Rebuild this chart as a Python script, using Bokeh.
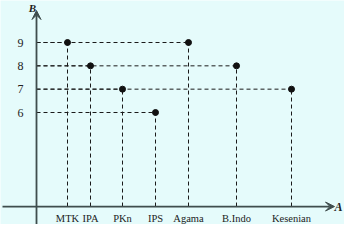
from bokeh.plotting import figure
from bokeh.models import Range1d, Arrow, VeeHead
from bokeh.embed import file_html
from bokeh.resources import INLINE
from bokeh.core.properties import value

# ---- data ----
categories = ["MTK", "IPA", "PKn", "IPS", "Agama", "B.Indo", "Kesenian"]
scores = [9, 8, 7, 6, 9, 8, 7]
y_ticks = [6, 7, 8, 9]
y_tick_labels = ["6", "7", "8", "9"]
x_axis_label = "A"
y_axis_label = "B"

# ---- layout (positions of the category slots along the horizontal axis) ----
cat_x = [31, 54, 86, 119, 152, 200, 255]
base = 1.97          # level at which the horizontal axis is drawn
bg = "#e5fbfb"
axis_col = "#3f4d4d"
serif = value("Liberation Serif")

p = figure(width=344, height=224, x_range=Range1d(-36, 308), y_range=Range1d(1.2, 10.8),
           x_axis_type=None, y_axis_type=None, toolbar_location=None,
           output_backend="svg", min_border=0)
p.background_fill_color = bg
p.border_fill_color = bg
p.outline_line_color = None
p.grid.visible = False

# dashed guides
p.segment(x0=[0] * len(scores), y0=scores, x1=cat_x, y1=scores,
          line_color="#1a1a1a", line_width=1, line_dash="4 3")
p.segment(x0=cat_x, y0=[base] * len(scores), x1=cat_x, y1=scores,
          line_color="#1a1a1a", line_width=1, line_dash="4 3")

# axes with arrows
p.add_layout(Arrow(x_start=-34, y_start=base, x_end=298, y_end=base,
                   line_color=axis_col, line_width=1.8,
                   end=VeeHead(size=9, fill_color=axis_col, line_color=axis_col)))
p.add_layout(Arrow(x_start=0, y_start=0.8, x_end=0, y_end=10.37,
                   line_color=axis_col, line_width=1.8,
                   end=VeeHead(size=9, fill_color=axis_col, line_color=axis_col)))

# points
p.scatter(cat_x, scores, size=6, color="#111111")

# tick labels
p.text(x=[-16] * len(y_ticks), y=y_ticks, text=y_tick_labels, text_font=serif,
       text_font_size="12px", text_align="center", text_baseline="middle",
       text_color="#222222")
p.text(x=cat_x, y=[base - 0.5] * len(categories), text=categories, text_font=serif,
       text_font_size="10.5px", text_align="center", text_baseline="middle",
       text_color="#222222")

# axis names
p.text(x=[302], y=[base - 0.03], text=[x_axis_label], text_font=serif,
       text_font_size="12px", text_font_style="bold italic",
       text_align="center", text_baseline="middle", text_color="#222222")
p.text(x=[-4], y=[10.5], text=[y_axis_label], text_font=serif,
       text_font_size="11px", text_font_style="bold italic",
       text_align="center", text_baseline="middle", text_color="#222222")

open("out.html", "w").write(file_html(p, INLINE))
